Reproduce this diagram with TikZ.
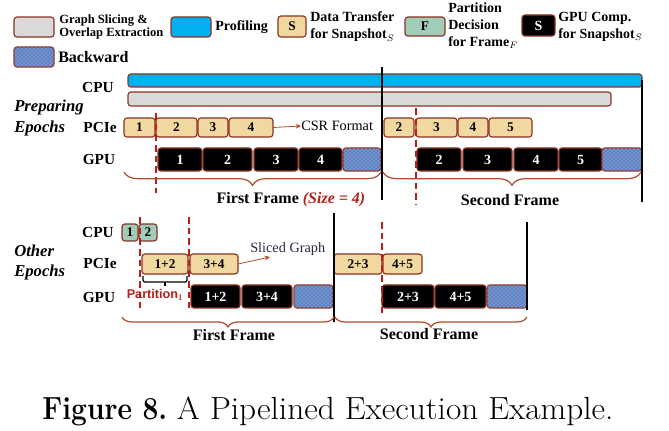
\documentclass[tikz,border=0pt]{standalone}
\usepackage{fontspec}
\newfontfamily\tnr{Liberation Serif}
\newfontfamily\arl{Liberation Sans}
\usetikzlibrary{patterns,decorations.pathreplacing,arrows.meta}
\definecolor{bord}{RGB}{140,50,35}
\definecolor{grayf}{RGB}{217,217,217}
\definecolor{bluef}{RGB}{0,176,240}
\definecolor{tanf}{RGB}{240,216,160}
\definecolor{greenf}{RGB}{160,204,184}
\definecolor{bwf}{RGB}{95,130,195}
\definecolor{redd}{RGB}{185,30,25}
\definecolor{bracec}{RGB}{175,75,45}
\definecolor{sgc}{RGB}{40,40,70}
\tikzset{
  base/.style={draw=bord, line width=0.9pt, rounded corners=2.2pt, inner sep=0pt, outer sep=0pt},
  grayb/.style={base, fill=grayf},
  blueb/.style={base, fill=bluef},
  tanb/.style={base, fill=tanf, font=\tnr\bfseries\fontsize{10}{12}\selectfont},
  greenb/.style={base, fill=greenf, font=\tnr\bfseries\fontsize{10}{12}\selectfont},
  blackb/.style={base, fill=black, text=white, font=\tnr\bfseries\fontsize{10.5}{12}\selectfont},
  bwb/.style={base, fill=bwf, postaction={pattern=crosshatch dots, pattern color=white!55!bwf}},
  lab/.style={font=\tnr\bfseries\fontsize{11.5}{13}\selectfont, inner sep=0pt},
  eplab/.style={font=\tnr\bfseries\itshape\fontsize{12.5}{15.5}\selectfont, inner sep=0pt, align=left, anchor=west},
  lgtxt/.style={font=\tnr\bfseries\fontsize{10.5}{12.75}\selectfont, inner sep=0pt, align=left, anchor=west},
  frtxt/.style={font=\tnr\bfseries\fontsize{12}{14}\selectfont, inner sep=0pt},
  note/.style={font=\tnr\fontsize{10.7}{12}\selectfont, inner sep=0pt, anchor=west},
  reddash/.style={draw=redd, line width=1pt, dash pattern=on 5pt off 3pt},
  sep/.style={draw=black, line width=1.2pt},
  brc/.style={draw=bracec, line width=0.9pt, decorate},
  arr/.style={draw=bracec, line width=0.6pt, -{Stealth[length=4pt,width=3.5pt]}},
}
\newcommand\mkbox[7]{\node[#1, minimum width={(#5-#3)*0.75pt}, minimum height={(#6-#4)*0.75pt}] (#2) at ({(#3+#5)/2},{(#4+#6)/2}) {#7};}
\begin{document}
\begin{tikzpicture}[x=0.75pt,y=-0.75pt]
\useasboundingbox (0,0) rectangle (669,431);
% ---------- legend ----------
\mkbox{grayb}{lg1}{14}{17}{54}{37}{}
\node[lgtxt, font=\tnr\bfseries\fontsize{9.4}{9.2}\selectfont] (lt1) at (59,27) {Graph Slicing \&\\Overlap Extraction};
\mkbox{blueb}{lg2}{171}{17}{211}{37}{}
\node[lgtxt] (lt2) at (215,27) {Profiling};
\mkbox{tanb}{lg3}{278}{16}{306}{37}{S}
\node[lgtxt] (lt3) at (310,27) {Data Transfer\\for Snapshot$_S$};
\mkbox{greenb}{lg4}{405}{17}{445}{36}{F}
\node[lgtxt] (lt4) at (448,26) {Partition\\Decision\\for Frame$_F$};
\mkbox{blackb}{lg5}{522}{15}{555}{36}{S}
\node[lgtxt] (lt5) at (558,27) {GPU Comp.\\for Snapshot$_S$};
\mkbox{bwb}{lg6}{14}{47}{54}{67}{}
\node[lgtxt, font=\tnr\bfseries\fontsize{12}{14}\selectfont] (lt6) at (58,57) {Backward};
% ---------- preparing epochs ----------
\node[eplab] (prep) at (14,118) {Preparing\\Epochs};
\node[lab] (cpuA) at (98,88) {CPU};
\node[lab] (pcieA) at (100,128) {PCIe};
\node[lab] (gpuA) at (99,160) {GPU};
\mkbox{blueb}{prof}{128}{74}{642}{87}{}
\mkbox{grayb}{slice}{128}{92}{611}{106}{}
\mkbox{tanb}{pa1}{124}{118}{155}{137}{1}
\mkbox{tanb}{pa2}{156}{118}{197}{137}{2}
\mkbox{tanb}{pa3}{198}{118}{228}{137}{3}
\mkbox{tanb}{pa4}{229}{118}{273}{137}{4}
\mkbox{tanb}{pb2}{384}{118}{414}{137}{2}
\mkbox{tanb}{pb3}{416}{118}{457}{137}{3}
\mkbox{tanb}{pb4}{458}{118}{488}{137}{4}
\mkbox{tanb}{pb5}{489}{118}{532}{137}{5}
\mkbox{blackb}{ga1}{158}{148}{202}{171}{1}
\mkbox{blackb}{ga2}{203}{148}{252}{171}{2}
\mkbox{blackb}{ga3}{254}{148}{298}{171}{3}
\mkbox{blackb}{ga4}{299}{148}{342}{171}{4}
\mkbox{bwb}{gab}{343}{148}{381}{171}{}
\mkbox{blackb}{gb2}{417}{148}{461}{171}{2}
\mkbox{blackb}{gb3}{463}{148}{512}{171}{3}
\mkbox{blackb}{gb4}{514}{148}{558}{171}{4}
\mkbox{blackb}{gb5}{559}{148}{602}{171}{5}
\mkbox{bwb}{gbb}{602}{148}{642}{171}{}
\node[note] (csr) at (301,126) {CSR Format};
\draw[arr] (pa4.east) -- (csr.west);
\draw[reddash] (156,113) -- (156,193);
\draw[reddash] (416,108) -- (416,205);
\draw[sep] (382,67) -- (382,200);
\draw[sep] (642,80) -- (642,202);
\draw[brc, decoration={brace, amplitude=10pt}] (381,172) -- (124,172);
\draw[brc, decoration={brace, amplitude=10pt}] (641,172) -- (383,172);
\node[frtxt] (ffA) at (291,200) {First Frame \textcolor{redd}{\itshape(Size = 4)}};
\node[frtxt] (sfA) at (510,200) {Second Frame};
% ---------- other epochs ----------
\node[eplab] (other) at (14,262.5) {Other\\Epochs};
\node[lab] (cpuB) at (98,233) {CPU};
\node[lab] (pcieB) at (100,263) {PCIe};
\node[lab] (gpuB) at (99,297) {GPU};
\mkbox{greenb}{c1}{122}{224}{138}{241}{1}
\mkbox{greenb}{c2}{139}{224}{157}{241}{2}
\mkbox{tanb}{q12}{142}{254}{188}{274}{1+2}
\mkbox{tanb}{q34}{190}{254}{238}{274}{3+4}
\mkbox{tanb}{q23}{334}{254}{382}{274}{2+3}
\mkbox{tanb}{q45}{383}{254}{422}{274}{4+5}
\mkbox{blackb}{h12}{191}{285}{240}{308}{1+2}
\mkbox{blackb}{h34}{242}{285}{292}{308}{3+4}
\mkbox{bwb}{hb1}{294}{285}{333}{308}{}
\mkbox{blackb}{h23}{382}{285}{434}{308}{2+3}
\mkbox{blackb}{h45}{435}{285}{486}{308}{4+5}
\mkbox{bwb}{hb2}{487}{285}{527}{308}{}
\node[note, text=sgc] (sg) at (250,249) {Sliced Graph};
\coordinate (sgtip) at (270,257);
\draw[arr] (q34.east) -- (sgtip);
\draw[reddash] (140,217) -- (140,308);
\draw[reddash] (189,217) -- (189,308);
\draw[reddash] (382,222) -- (382,313);
\draw[sep] (334,213) -- (334,322);
\draw[sep] (527,222) -- (527,310);
\draw[black, line width=0.9pt, rounded corners=1.5pt] (143,276) -- (143,282) -- (187,282) -- (187,276);
\draw[black, line width=0.9pt] (165,282) -- (165,286);
\node[inner sep=0pt, text=redd, font=\arl\bfseries\fontsize{9.5}{11}\selectfont] (part) at (155,295) {Partition$_\mathbf{1}$};
\draw[brc, decoration={brace, amplitude=7.5pt}] (334,317) -- (122,317);
\draw[brc, decoration={brace, amplitude=7.5pt}] (527,317) -- (335,317);
\node[frtxt] (ffB) at (234,335) {First Frame};
\node[frtxt] (sfB) at (429,334) {Second Frame};
% ---------- caption ----------
\node[inner sep=0pt, anchor=base, font=\fontsize{24}{28}\selectfont] (cap) at (328,420) {\scalebox{0.88}[1]{\textbf{Figure 8.}} \scalebox{1.04}[1]{A Pipelined Execution Example.}};
\end{tikzpicture}
\end{document}
